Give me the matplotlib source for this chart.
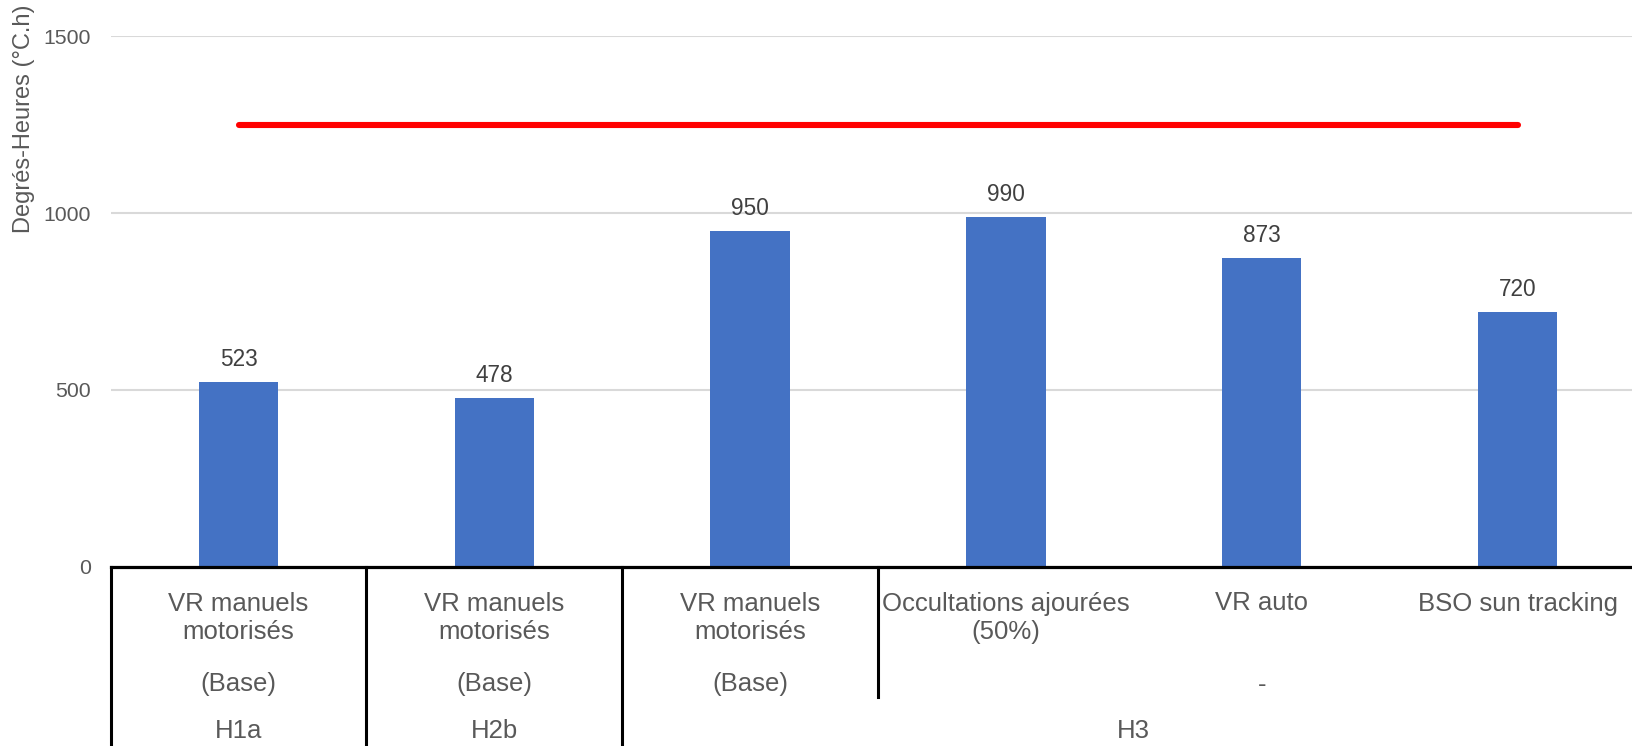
import matplotlib
matplotlib.use("Agg")
import matplotlib.pyplot as plt
import matplotlib.transforms as mtransforms
from matplotlib.lines import Line2D

plt.rcParams["font.family"] = ["Liberation Sans", "DejaVu Sans"]

# --- data -------------------------------------------------------------
scenarios = [
    "VR manuels\nmotorisés",
    "VR manuels\nmotorisés",
    "VR manuels\nmotorisés",
    "Occultations ajourées\n(50%)",
    "VR auto",
    "BSO sun tracking",
]
degree_hours = [523, 478, 950, 990, 873, 720]
threshold = 1250

variant_labels = ["(Base)", "(Base)", "(Base)", "-"]
variant_spans = [(0, 0), (1, 1), (2, 2), (3, 5)]

building_labels = ["H1a", "H2b", "H3"]
building_spans = [(0, 0), (1, 1), (2, 5)]

y_ticks = [0, 500, 1000, 1500]

# --- figure -----------------------------------------------------------
W, H = 1632, 746
DPI = 100
fig = plt.figure(figsize=(W / DPI, H / DPI), dpi=DPI)

x_left, x_right = 110.6, 1645.4
y_top, y_zero = 36.4, 566.7
ax = fig.add_axes([x_left / W, 1 - y_zero / H,
                   (x_right - x_left) / W, (y_zero - y_top) / H])

TEXT = "#595959"
BLUE = "#4472C4"

x = list(range(len(degree_hours)))
ax.bar(x, degree_hours, width=0.311, color=BLUE, zorder=2)
ax.plot([x[0], x[-1]], [threshold, threshold], color="#FF0000", lw=4.4,
        solid_capstyle="round", zorder=3)

for xi, v in zip(x, degree_hours):
    ax.annotate(f"{v}", (xi, v), xytext=(0, 11.5), textcoords="offset points",
                ha="center", va="baseline", fontsize=16.3, color="#404040")

ax.set_xlim(-0.5, len(x) - 0.5)
ax.set_ylim(0, 1500)
ax.set_yticks(y_ticks)
ax.set_yticklabels([str(t) for t in y_ticks])
ax.tick_params(axis="y", length=0, pad=14, labelsize=15.3, labelcolor=TEXT)
ax.tick_params(axis="x", length=0, labelbottom=False)
ax.grid(axis="y", color="#D9D9D9", lw=1.5, zorder=0)
ax.set_axisbelow(True)
for s in ("top", "right", "left"):
    ax.spines[s].set_visible(False)
ax.spines["bottom"].set_color("black")
ax.spines["bottom"].set_linewidth(2.3)
ax.spines["bottom"].set_zorder(4)

fig.text(24 / W, 1 - 119 / H, "Degrés-Heures (°C.h)", rotation=90,
         ha="center", va="center", fontsize=17, color=TEXT)

# --- multi-level category axis ---------------------------------------
btr = mtransforms.blended_transform_factory(ax.transData, fig.transFigure)


def fy(px):
    return 1 - px / H


CAT_FS = 18.5
for xi, lab in zip(x, scenarios):
    if "\n" in lab:
        ax.text(xi, fy(592), lab, transform=btr, ha="center", va="top",
                fontsize=CAT_FS, color=TEXT, linespacing=1.22,
                multialignment="center", clip_on=False)
    else:
        ax.text(xi, fy(610.5), lab, transform=btr, ha="center",
                va="baseline", fontsize=CAT_FS, color=TEXT, clip_on=False)

for lab, (a, b) in zip(variant_labels, variant_spans):
    ax.text((a + b) / 2, fy(691.5), lab, transform=btr, ha="center",
            va="baseline", fontsize=CAT_FS, color=TEXT, clip_on=False)

for lab, (a, b) in zip(building_labels, building_spans):
    ax.text((a + b) / 2, fy(738.5), lab, transform=btr, ha="center",
            va="baseline", fontsize=CAT_FS, color=TEXT, clip_on=False)

# separators between groups
sep_full = [-0.5, 0.5, 1.5]
sep_short = [2.5]
for xs in sep_full:
    fig.add_artist(Line2D([xs, xs], [fy(y_zero), fy(H + 2)], transform=btr,
                          color="black", lw=2.2))
for xs in sep_short:
    fig.add_artist(Line2D([xs, xs], [fy(y_zero), fy(696.7)], transform=btr,
                          color="black", lw=2.2))

fig.savefig("out.png", dpi=DPI)
